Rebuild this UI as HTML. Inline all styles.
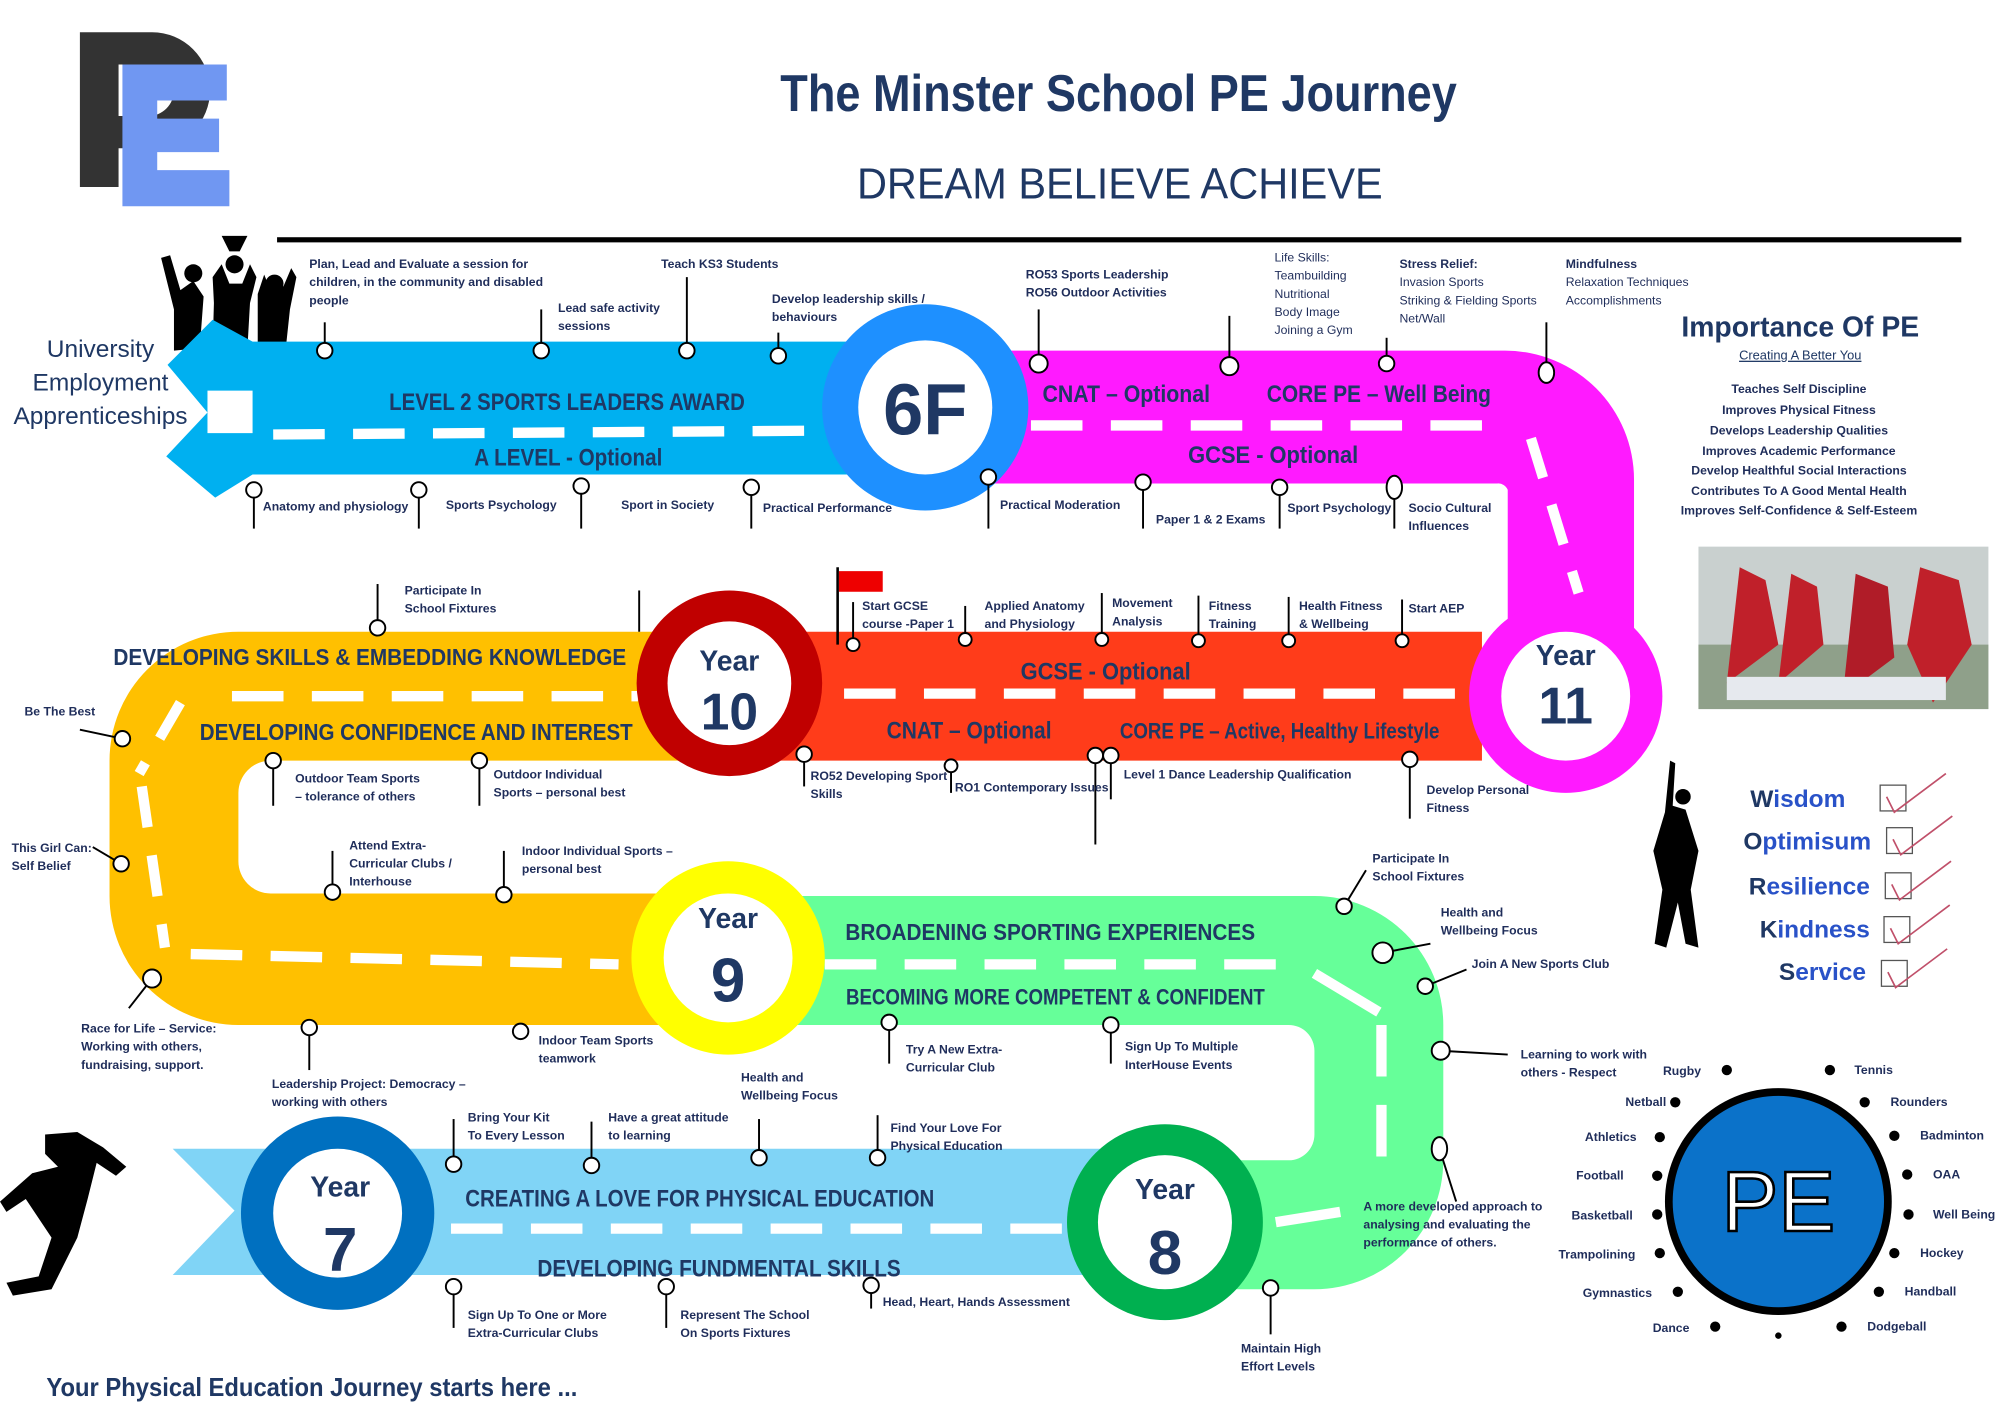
<!DOCTYPE html>
<html><head><meta charset="utf-8"><style>
html,body{margin:0;padding:0;background:#fff;}
svg{display:block;}
.t{font-family:"Liberation Sans",sans-serif;font-weight:bold;fill:#1f2d5a;font-size:9.5px;}
.r{font-family:"Liberation Sans Narrow","Liberation Sans",sans-serif;font-weight:bold;fill:#1f3864;}
.s{font-family:"Liberation Sans",sans-serif;fill:#1f3864;}
</style></head><body>
<svg width="2000" height="1413" viewBox="0 0 1552 1096" preserveAspectRatio="none" xmlns="http://www.w3.org/2000/svg">
<rect width="1552" height="1096" fill="#fff"/>
<!-- logo -->
<path d="M62 25 H118 A45 45 0 0 1 118 115 H92 V145 H62 Z M92 50 V90 H115 A20 20 0 0 0 115 50 Z" fill="#333"/>
<path d="M95 50 H176 V78 H122 V92 H170 V118 H122 V132 H178 V160 H95 Z" fill="#7097f2"/>
<text x="868" y="86" text-anchor="middle" class="r" font-size="40" textLength="525" lengthAdjust="spacingAndGlyphs">The Minster School PE  Journey</text>
<text x="869" y="154" text-anchor="middle" class="s" font-size="34" textLength="408" lengthAdjust="spacingAndGlyphs">DREAM BELIEVE ACHIEVE</text>
<rect x="215" y="184" width="1307" height="4" fill="#000"/>

<!-- left text -->
<text x="78" y="277" text-anchor="middle" class="s" font-size="19">University</text>
<text x="78" y="303" text-anchor="middle" class="s" font-size="19">Employment</text>
<text x="78" y="329" text-anchor="middle" class="s" font-size="19">Apprenticeships</text>

<!-- celebrating figures -->
<g fill="#000">
<path d="M125 200 L132 198 L140 225 L150 218 L158 230 L155 270 L135 272 L135 240 Z"/>
<circle cx="150" cy="212" r="7"/>
<path d="M165 215 L172 205 L178 220 L188 220 L194 205 L199 215 L194 235 L192 270 L165 270 L166 235 Z"/>
<circle cx="182" cy="205" r="7"/>
<path d="M172 183 H192 L186 195 H178 Z"/>
<path d="M200 228 L205 213 L210 225 L220 222 L226 208 L230 215 L225 240 L222 268 L200 268 Z"/>
<circle cx="213" cy="220" r="7"/>
</g>

<!-- ROADS -->
<!-- blue arrow road -->
<path d="M196 265 H720 V368 H196 L167 386 L129 354 L161 320 L130 283 L165 248 Z" fill="#00b0f0"/>
<path d="M161 303 H196 V336 H161 Z" fill="#fff"/>
<!-- magenta -->
<path d="M718 272 H1168 A100 100 0 0 1 1268 372 V540 H1170 V380 A8 8 0 0 0 1162 375 H718 Z" fill="#ff1aff"/>
<!-- red -->
<path d="M565 490 H1150 V590 H565 Z" fill="#ff3c1a"/>
<!-- orange -->
<path d="M566 490 H185 A100 100 0 0 0 85 590 V695 A100 100 0 0 0 185 795 H566 V693 H210 A25 25 0 0 1 185 668 V615 A25 25 0 0 1 210 590 H566 Z" fill="#ffc000"/>
<!-- green -->
<path d="M565 695 H1020 A100 100 0 0 1 1120 795 V900 A100 100 0 0 1 1020 1000 H904 V900 H1000 A20 20 0 0 0 1020 880 V815 A20 20 0 0 0 1000 795 H565 Z" fill="#66ff99"/>
<!-- light blue ribbon -->
<path d="M134 891 H904 V989 H134 L182 939 Z" fill="#80d4f6"/>

<!-- dashes -->
<g stroke="#fff" stroke-width="8" fill="none">
<line x1="212" y1="337" x2="640" y2="334" stroke-dasharray="40 22"/>
<line x1="800" y1="330" x2="1160" y2="330" stroke-dasharray="40 22"/>
<line x1="1188" y1="340" x2="1225" y2="460" stroke-dasharray="32 22"/>
<line x1="655" y1="538" x2="1140" y2="538" stroke-dasharray="40 22"/>
<line x1="180" y1="540" x2="495" y2="540" stroke-dasharray="40 22"/>
<line x1="140" y1="545" x2="108" y2="600" stroke-dasharray="32 22"/>
<line x1="110" y1="610" x2="128" y2="735" stroke-dasharray="32 22"/>
<line x1="148" y1="740" x2="480" y2="748" stroke-dasharray="40 22"/>
<line x1="640" y1="748" x2="1000" y2="748" stroke-dasharray="40 22"/>
<line x1="1020" y1="755" x2="1070" y2="785"/>
<line x1="1072" y1="795" x2="1072" y2="900" stroke-dasharray="40 22"/>
<line x1="990" y1="948" x2="1040" y2="940"/>
<line x1="350" y1="953" x2="830" y2="953" stroke-dasharray="40 22"/>
</g>

<!-- circles -->
<circle cx="718" cy="316" r="80" fill="#1e90ff"/><circle cx="718" cy="316" r="52" fill="#fff"/>
<text x="718" y="337" text-anchor="middle" class="r" font-size="56">6F</text>
<circle cx="1215" cy="540" r="75" fill="#ff1aff"/><circle cx="1215" cy="540" r="50" fill="#fff"/>
<text x="1215" y="516" text-anchor="middle" class="r" font-size="22">Year</text>
<text x="1215" y="561" text-anchor="middle" class="r" font-size="40">11</text>
<circle cx="566" cy="530" r="72" fill="#c00000"/><circle cx="566" cy="530" r="48" fill="#fff"/>
<text x="566" y="520" text-anchor="middle" class="r" font-size="22">Year</text>
<text x="566" y="566" text-anchor="middle" class="r" font-size="40">10</text>
<circle cx="565" cy="743" r="75" fill="#ffff00"/><circle cx="565" cy="743" r="50" fill="#fff"/>
<text x="565" y="720" text-anchor="middle" class="r" font-size="22">Year</text>
<text x="565" y="777" text-anchor="middle" class="r" font-size="48">9</text>
<circle cx="904" cy="948" r="76" fill="#00b050"/><circle cx="904" cy="948" r="52" fill="#fff"/>
<text x="904" y="930" text-anchor="middle" class="r" font-size="22">Year</text>
<text x="904" y="988" text-anchor="middle" class="r" font-size="48">8</text>
<circle cx="262" cy="941" r="75" fill="#0070c0"/><circle cx="262" cy="941" r="50" fill="#fff"/>
<text x="264" y="928" text-anchor="middle" class="r" font-size="22">Year</text>
<text x="264" y="986" text-anchor="middle" class="r" font-size="48">7</text>

<!-- road labels -->
<text x="440" y="318" text-anchor="middle" class="r" font-size="19" textLength="276" lengthAdjust="spacingAndGlyphs">LEVEL 2 SPORTS LEADERS AWARD</text>
<text x="441" y="361" text-anchor="middle" class="r" font-size="19" textLength="146" lengthAdjust="spacingAndGlyphs">A LEVEL - Optional</text>
<text x="874" y="312" text-anchor="middle" class="r" font-size="19" textLength="130" lengthAdjust="spacingAndGlyphs">CNAT – Optional</text>
<text x="1070" y="312" text-anchor="middle" class="r" font-size="19" textLength="174" lengthAdjust="spacingAndGlyphs">CORE PE – Well Being</text>
<text x="988" y="359" text-anchor="middle" class="r" font-size="19" textLength="132" lengthAdjust="spacingAndGlyphs">GCSE  - Optional</text>
<text x="858" y="527" text-anchor="middle" class="r" font-size="19" textLength="132" lengthAdjust="spacingAndGlyphs">GCSE  - Optional</text>
<text x="752" y="573" text-anchor="middle" class="r" font-size="19" textLength="128" lengthAdjust="spacingAndGlyphs">CNAT – Optional</text>
<text x="993" y="573" text-anchor="middle" class="r" font-size="17" textLength="248" lengthAdjust="spacingAndGlyphs">CORE PE – Active, Healthy Lifestyle</text>
<text x="287" y="516" text-anchor="middle" class="r" font-size="18" textLength="398" lengthAdjust="spacingAndGlyphs">DEVELOPING SKILLS &amp; EMBEDDING KNOWLEDGE</text>
<text x="323" y="574" text-anchor="middle" class="r" font-size="18" textLength="336" lengthAdjust="spacingAndGlyphs">DEVELOPING CONFIDENCE AND INTEREST</text>
<text x="815" y="729" text-anchor="middle" class="r" font-size="18" textLength="318" lengthAdjust="spacingAndGlyphs">BROADENING SPORTING EXPERIENCES</text>
<text x="819" y="779" text-anchor="middle" class="r" font-size="17" textLength="325" lengthAdjust="spacingAndGlyphs">BECOMING MORE COMPETENT &amp; CONFIDENT</text>
<text x="543" y="936" text-anchor="middle" class="r" font-size="19" textLength="364" lengthAdjust="spacingAndGlyphs">CREATING A LOVE FOR PHYSICAL EDUCATION</text>
<text x="558" y="990" text-anchor="middle" class="r" font-size="19" textLength="282" lengthAdjust="spacingAndGlyphs">DEVELOPING FUNDMENTAL SKILLS</text>
<text x="36" y="1083" class="r" font-size="20" textLength="412" lengthAdjust="spacingAndGlyphs">Your Physical Education Journey starts here ...</text>

<!-- pins -->
<g stroke="#000" stroke-width="1.5" fill="#fff">
<line x1="252" y1="272" x2="252" y2="250"/><circle cx="252" cy="272" r="6"/>
<line x1="420" y1="272" x2="420" y2="240"/><circle cx="420" cy="272" r="6"/>
<line x1="533" y1="272" x2="533" y2="215"/><circle cx="533" cy="272" r="6"/>
<line x1="604" y1="276" x2="604" y2="258"/><circle cx="604" cy="276" r="6"/>
<line x1="197" y1="380" x2="197" y2="410"/><circle cx="197" cy="380" r="6"/>
<line x1="325" y1="380" x2="325" y2="410"/><circle cx="325" cy="380" r="6"/>
<line x1="451" y1="377" x2="451" y2="410"/><circle cx="451" cy="377" r="6"/>
<line x1="583" y1="378" x2="583" y2="410"/><circle cx="583" cy="378" r="6"/>
<line x1="767" y1="370" x2="767" y2="410"/><circle cx="767" cy="370" r="6"/>
<line x1="806" y1="282" x2="806" y2="240"/><circle cx="806" cy="282" r="7"/>
<line x1="954" y1="284" x2="954" y2="245"/><circle cx="954" cy="284" r="7"/>
<line x1="1076" y1="282" x2="1076" y2="262"/><circle cx="1076" cy="282" r="6"/>
<line x1="1200" y1="289" x2="1200" y2="250"/><ellipse cx="1200" cy="289" rx="6" ry="8"/>
<line x1="887" y1="374" x2="887" y2="410"/><circle cx="887" cy="374" r="6"/>
<line x1="993" y1="378" x2="993" y2="410"/><circle cx="993" cy="378" r="6"/>
<line x1="1082" y1="378" x2="1082" y2="410"/><ellipse cx="1082" cy="378" rx="6" ry="9"/>
<line x1="662" y1="500" x2="662" y2="467"/><circle cx="662" cy="500" r="5"/>
<line x1="749" y1="496" x2="749" y2="470"/><circle cx="749" cy="496" r="5"/>
<line x1="855" y1="496" x2="855" y2="460"/><circle cx="855" cy="496" r="5"/>
<line x1="930" y1="497" x2="930" y2="462"/><circle cx="930" cy="497" r="5"/>
<line x1="1000" y1="497" x2="1000" y2="463"/><circle cx="1000" cy="497" r="5"/>
<line x1="1088" y1="497" x2="1088" y2="465"/><circle cx="1088" cy="497" r="5"/>
<line x1="624" y1="585" x2="624" y2="610"/><circle cx="624" cy="585" r="6"/>
<line x1="738" y1="594" x2="738" y2="615"/><circle cx="738" cy="594" r="5"/>
<line x1="850" y1="586" x2="850" y2="655"/><circle cx="850" cy="586" r="6"/>
<line x1="862" y1="586" x2="862" y2="620"/><circle cx="862" cy="586" r="6"/>
<line x1="1094" y1="589" x2="1094" y2="635"/><circle cx="1094" cy="589" r="6"/>
<line x1="293" y1="487" x2="293" y2="453"/><circle cx="293" cy="487" r="6"/>
<line x1="496" y1="490" x2="496" y2="458"/>
<line x1="95" y1="573" x2="62" y2="566"/><circle cx="95" cy="573" r="6"/>
<line x1="94" y1="670" x2="72" y2="657"/><circle cx="94" cy="670" r="6"/>
<line x1="212" y1="590" x2="212" y2="625"/><circle cx="212" cy="590" r="6"/>
<line x1="372" y1="590" x2="372" y2="625"/><circle cx="372" cy="590" r="6"/>
<line x1="258" y1="692" x2="258" y2="660"/><circle cx="258" cy="692" r="6"/>
<line x1="391" y1="694" x2="391" y2="660"/><circle cx="391" cy="694" r="6"/>
<line x1="118" y1="759" x2="100" y2="782"/><circle cx="118" cy="759" r="7"/>
<line x1="240" y1="797" x2="240" y2="830"/><circle cx="240" cy="797" r="6"/>
<circle cx="404" cy="800" r="6"/>
<line x1="1043" y1="703" x2="1060" y2="675"/><circle cx="1043" cy="703" r="6"/>
<line x1="1073" y1="739" x2="1110" y2="732"/><circle cx="1073" cy="739" r="8"/>
<line x1="1106" y1="765" x2="1138" y2="752"/><circle cx="1106" cy="765" r="6"/>
<line x1="1118" y1="815" x2="1170" y2="818"/><circle cx="1118" cy="815" r="7"/>
<line x1="690" y1="793" x2="690" y2="825"/><circle cx="690" cy="793" r="6"/>
<line x1="862" y1="795" x2="862" y2="825"/><circle cx="862" cy="795" r="6"/>
<line x1="1117" y1="891" x2="1130" y2="932"/><ellipse cx="1117" cy="891" rx="6" ry="9"/>
<line x1="986" y1="999" x2="986" y2="1035"/><circle cx="986" cy="999" r="6"/>
<line x1="352" y1="903" x2="352" y2="868"/><circle cx="352" cy="903" r="6"/>
<line x1="459" y1="904" x2="459" y2="870"/><circle cx="459" cy="904" r="6"/>
<line x1="589" y1="898" x2="589" y2="868"/><circle cx="589" cy="898" r="6"/>
<line x1="681" y1="898" x2="681" y2="865"/><circle cx="681" cy="898" r="6"/>
<line x1="352" y1="998" x2="352" y2="1030"/><circle cx="352" cy="998" r="6"/>
<line x1="517" y1="998" x2="517" y2="1030"/><circle cx="517" cy="998" r="6"/>
<line x1="676" y1="997" x2="676" y2="1015"/><circle cx="676" cy="997" r="6"/>
</g>
<rect x="649" y="440" width="2" height="60" fill="#000"/>
<rect x="651" y="443" width="34" height="16" fill="#e00"/>

<!-- small labels -->
<g class="t">
<text x="240" y="208">Plan, Lead and Evaluate a session for</text>
<text x="240" y="222">children, in the community and disabled</text>
<text x="240" y="236">people</text>
<text x="433" y="242">Lead safe activity</text><text x="433" y="256">sessions</text>
<text x="513" y="208">Teach KS3 Students</text>
<text x="599" y="235">Develop leadership skills /</text><text x="599" y="249">behaviours</text>
<text x="204" y="396">Anatomy and physiology</text>
<text x="346" y="395">Sports Psychology</text>
<text x="482" y="395">Sport in Society</text>
<text x="592" y="397">Practical Performance</text>
<text x="776" y="395">Practical Moderation</text>
<text x="796" y="216">RO53 Sports Leadership</text><text x="796" y="230">RO56 Outdoor Activities</text>
<text x="989" y="203" font-weight="normal">Life Skills:</text>
<text x="989" y="217" font-weight="normal">Teambuilding</text>
<text x="989" y="231" font-weight="normal">Nutritional</text>
<text x="989" y="245" font-weight="normal">Body Image</text>
<text x="989" y="259" font-weight="normal">Joining a Gym</text>
<text x="1086" y="208">Stress Relief:</text>
<text x="1086" y="222" font-weight="normal">Invasion Sports</text>
<text x="1086" y="236" font-weight="normal">Striking &amp; Fielding Sports</text>
<text x="1086" y="250" font-weight="normal">Net/Wall</text>
<text x="1215" y="208">Mindfulness</text>
<text x="1215" y="222" font-weight="normal">Relaxation Techniques</text>
<text x="1215" y="236" font-weight="normal">Accomplishments</text>
<text x="897" y="406">Paper 1 &amp; 2 Exams</text>
<text x="999" y="397">Sport Psychology</text>
<text x="1093" y="397">Socio Cultural</text><text x="1093" y="411">Influences</text>
<text x="669" y="473">Start GCSE</text><text x="669" y="487">course  -Paper 1</text>
<text x="764" y="473">Applied Anatomy</text><text x="764" y="487">and Physiology</text>
<text x="863" y="471">Movement</text><text x="863" y="485">Analysis</text>
<text x="938" y="473">Fitness</text><text x="938" y="487">Training</text>
<text x="1008" y="473">Health Fitness</text><text x="1008" y="487">&amp; Wellbeing</text>
<text x="1093" y="475">Start AEP</text>
<text x="629" y="605">RO52 Developing Sport</text><text x="629" y="619">Skills</text>
<text x="741" y="614">RO1 Contemporary Issues</text>
<text x="872" y="604">Level 1 Dance Leadership Qualification</text>
<text x="1107" y="616">Develop Personal</text><text x="1107" y="630">Fitness</text>
<text x="314" y="461">Participate In</text><text x="314" y="475">School Fixtures</text>
<text x="19" y="555">Be The Best</text>
<text x="9" y="661">This Girl Can:</text><text x="9" y="675">Self Belief</text>
<text x="229" y="607">Outdoor Team Sports</text><text x="229" y="621">– tolerance of others</text>
<text x="383" y="604">Outdoor Individual</text><text x="383" y="618">Sports – personal best</text>
<text x="271" y="659">Attend Extra-</text><text x="271" y="673">Curricular Clubs /</text><text x="271" y="687">Interhouse</text>
<text x="405" y="663">Indoor Individual Sports –</text><text x="405" y="677">personal best</text>
<text x="63" y="801">Race for Life – Service:</text><text x="63" y="815">Working with others,</text><text x="63" y="829">fundraising, support.</text>
<text x="211" y="844">Leadership Project: Democracy –</text><text x="211" y="858">working with others</text>
<text x="418" y="810">Indoor Team Sports</text><text x="418" y="824">teamwork</text>
<text x="1065" y="669">Participate In</text><text x="1065" y="683">School Fixtures</text>
<text x="1118" y="711">Health and</text><text x="1118" y="725">Wellbeing Focus</text>
<text x="1142" y="751">Join A New Sports Club</text>
<text x="1180" y="821">Learning to work with</text><text x="1180" y="835">others - Respect</text>
<text x="703" y="817">Try A New Extra-</text><text x="703" y="831">Curricular Club</text>
<text x="873" y="815">Sign Up To Multiple</text><text x="873" y="829">InterHouse Events</text>
<text x="1058" y="939">A more developed approach to</text><text x="1058" y="953">analysing and evaluating the</text><text x="1058" y="967">performance of others.</text>
<text x="963" y="1049">Maintain High</text><text x="963" y="1063">Effort Levels</text>
<text x="363" y="870">Bring Your Kit</text><text x="363" y="884">To Every Lesson</text>
<text x="472" y="870">Have a great attitude</text><text x="472" y="884">to learning</text>
<text x="575" y="839">Health and</text><text x="575" y="853">Wellbeing Focus</text>
<text x="691" y="878">Find Your Love For</text><text x="691" y="892">Physical Education</text>
<text x="363" y="1023">Sign Up To One or More</text><text x="363" y="1037">Extra-Curricular Clubs</text>
<text x="528" y="1023">Represent The School</text><text x="528" y="1037">On Sports Fixtures</text>
<text x="685" y="1013">Head, Heart, Hands Assessment</text>
</g>

<!-- right panel -->
<text x="1397" y="261" text-anchor="middle" class="r" font-size="22">Importance Of PE</text>
<text x="1397" y="279" text-anchor="middle" class="s" font-size="10" text-decoration="underline">Creating A Better You</text>
<g class="t" text-anchor="middle" font-size="10">
<text x="1396" y="305">Teaches Self Discipline</text>
<text x="1396" y="321">Improves Physical Fitness</text>
<text x="1396" y="337">Develops Leadership Qualities</text>
<text x="1396" y="353">Improves Academic Performance</text>
<text x="1396" y="368">Develop Healthful Social Interactions</text>
<text x="1396" y="384">Contributes To A Good Mental Health</text>
<text x="1396" y="399">Improves Self-Confidence &amp; Self-Esteem</text>
</g>
<!-- photo -->
<rect x="1318" y="424" width="225" height="126" fill="#c9d0cf"/>
<rect x="1318" y="500" width="225" height="50" fill="#8fa08a"/>
<path d="M1350 440 L1370 450 L1380 500 L1340 530 Z" fill="#c0202a"/>
<path d="M1390 445 L1410 455 L1415 500 L1380 530 Z" fill="#c0202a"/>
<path d="M1440 445 L1465 455 L1470 510 L1430 540 Z" fill="#b01c28"/>
<path d="M1490 440 L1520 450 L1530 500 L1500 545 L1480 500 Z" fill="#c0202a"/>
<rect x="1340" y="525" width="170" height="18" fill="#e6e9ee"/>

<!-- values -->
<g class="r" font-size="19" text-anchor="end" fill="#2e4fd0">
<text x="1432" y="626" fill="#2952c8"><tspan fill="#1f3864">W</tspan>isdom</text>
<text x="1452" y="659" fill="#2952c8"><tspan fill="#1f3864">O</tspan>ptimisum</text>
<text x="1451" y="694" fill="#2952c8"><tspan fill="#1f3864">R</tspan>esilience</text>
<text x="1451" y="727" fill="#2952c8"><tspan fill="#1f3864">K</tspan>indness</text>
<text x="1448" y="760" fill="#2952c8"><tspan fill="#1f3864">S</tspan>ervice</text>
</g>
<g fill="none" stroke="#555" stroke-width="1">
<rect x="1459" y="609" width="20" height="20"/><rect x="1464" y="642" width="20" height="20"/>
<rect x="1463" y="677" width="20" height="20"/><rect x="1462" y="711" width="20" height="20"/>
<rect x="1460" y="745" width="20" height="20"/>
</g>
<g fill="none" stroke="#c0506a" stroke-width="1.3">
<path d="M1464 618 L1470 630 L1510 600"/><path d="M1469 651 L1475 663 L1515 633"/>
<path d="M1468 686 L1474 698 L1514 668"/><path d="M1467 720 L1473 732 L1513 702"/>
<path d="M1465 754 L1471 766 L1511 736"/>
</g>
<!-- player silhouette -->
<path d="M1296 590 L1300 592 L1298 625 L1308 628 L1318 660 L1312 690 L1318 735 L1308 732 L1302 700 L1293 735 L1284 732 L1290 690 L1283 660 L1292 630 Z" fill="#000"/>
<circle cx="1306" cy="618" r="6" fill="#000"/>
<!-- runner -->
<path d="M35 880 L60 878 L80 890 L98 905 L90 912 L75 902 L68 930 L60 960 L40 1000 L10 1005 L5 995 L30 990 L40 960 L20 930 L5 940 L0 932 L25 910 L45 905 L35 895 Z" fill="#000"/>
<circle cx="55" cy="890" r="8" fill="#000"/>

<!-- PE circle -->
<circle cx="1380" cy="932" r="88" fill="#000"/>
<circle cx="1380" cy="932" r="82" fill="#0b72c9"/>
<text x="1380" y="955" text-anchor="middle" font-family="Liberation Sans,sans-serif" font-size="66" fill="#fff" stroke="#000" stroke-width="2">PE</text>
<g fill="#000">
<circle cx="1340" cy="830" r="4"/><circle cx="1420" cy="830" r="4"/>
<circle cx="1300" cy="855" r="4"/><circle cx="1447" cy="855" r="4"/>
<circle cx="1288" cy="882" r="4"/><circle cx="1470" cy="881" r="4"/>
<circle cx="1286" cy="912" r="4"/><circle cx="1480" cy="911" r="4"/>
<circle cx="1286" cy="942" r="4"/><circle cx="1481" cy="942" r="4"/>
<circle cx="1288" cy="972" r="4"/><circle cx="1470" cy="972" r="4"/>
<circle cx="1302" cy="1002" r="4"/><circle cx="1458" cy="1002" r="4"/>
<circle cx="1331" cy="1029" r="4"/><circle cx="1429" cy="1029" r="4"/>
<circle cx="1380" cy="1036" r="2.5"/>
</g>
<g class="t">
<text x="1320" y="834" text-anchor="end">Rugby</text><text x="1439" y="833">Tennis</text>
<text x="1293" y="858" text-anchor="end">Netball</text><text x="1467" y="858">Rounders</text>
<text x="1270" y="885" text-anchor="end">Athletics</text><text x="1490" y="884">Badminton</text>
<text x="1260" y="915" text-anchor="end">Football</text><text x="1500" y="914">OAA</text>
<text x="1267" y="946" text-anchor="end">Basketball</text><text x="1500" y="945">Well Being</text>
<text x="1269" y="976" text-anchor="end">Trampolining</text><text x="1490" y="975">Hockey</text>
<text x="1282" y="1006" text-anchor="end">Gymnastics</text><text x="1478" y="1005">Handball</text>
<text x="1311" y="1033" text-anchor="end">Dance</text><text x="1449" y="1032">Dodgeball</text>
</g>
</svg>
</body></html>
